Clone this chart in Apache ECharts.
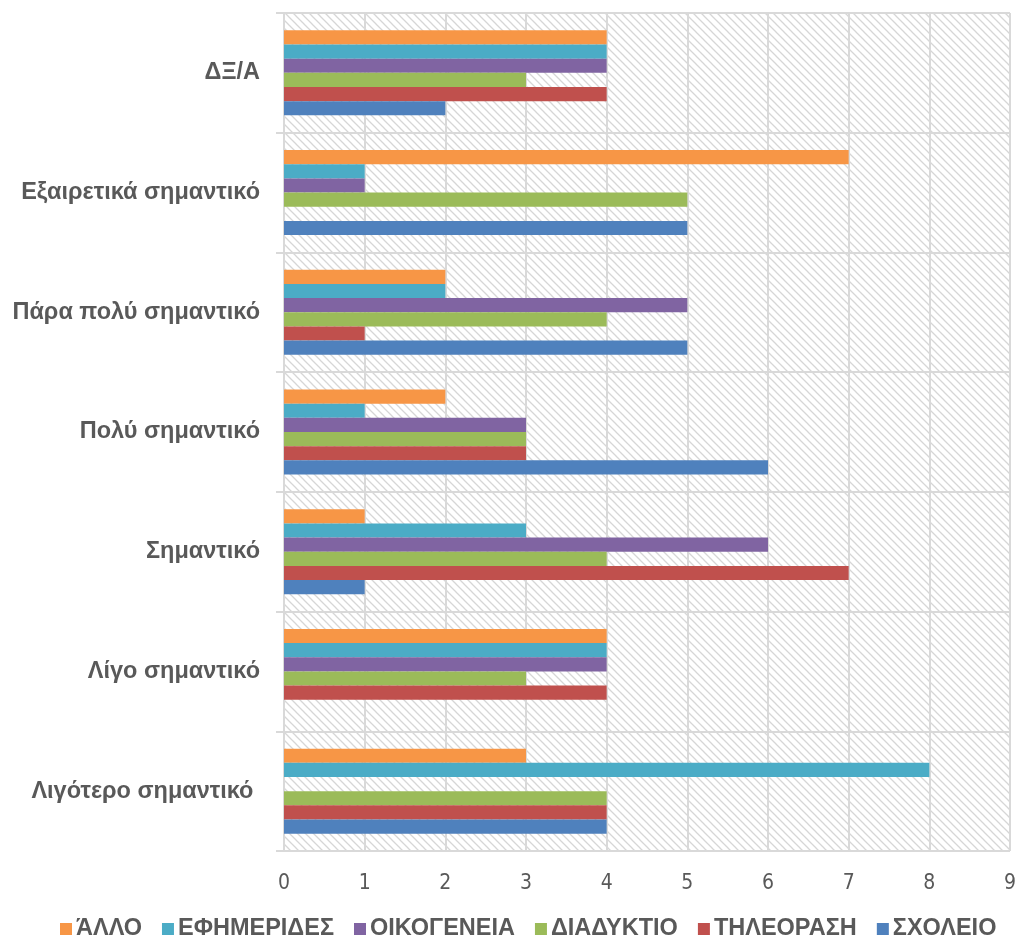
<!DOCTYPE html>
<html>
<head>
<meta charset="utf-8">
<script src="https://cdn.jsdelivr.net/npm/echarts@6/dist/echarts.min.js"></script>
<style>
  html, body { margin: 0; padding: 0; background: #ffffff; }
  #chart { width: 1019px; height: 947px; }
</style>
</head>
<body>
<div id="chart"></div>
<script>
// Importance categories, listed from the bottom of the axis upwards
const categories = [
  'Λιγότερο σημαντικό ',
  'Λίγο σημαντικό',
  'Σημαντικό',
  'Πολύ σημαντικό',
  'Πάρα πολύ σημαντικό',
  'Εξαιρετικά σημαντικό',
  'ΔΞ/Α'
];

// One array per information source, values follow the category order above
const sxoleio     = [4, 0, 1, 6, 5, 5, 2];
const tileorasi   = [4, 4, 7, 3, 1, 0, 4];
const diadyktio   = [4, 3, 4, 3, 4, 5, 3];
const oikogeneia  = [0, 4, 6, 3, 5, 1, 4];
const efimerides  = [8, 4, 3, 1, 2, 1, 4];
const allo        = [3, 4, 1, 2, 2, 7, 4];

const xTicks = [0, 1, 2, 3, 4, 5, 6, 7, 8, 9];
const legendOrder = ['ΆΛΛΟ', 'ΕΦΗΜΕΡΙΔΕΣ', 'ΟΙΚΟΓΕΝΕΙΑ', 'ΔΙΑΔΥΚΤΙΟ', 'ΤΗΛΕΟΡΑΣΗ', 'ΣΧΟΛΕΙΟ'];

// Light diagonal hatch used as the plot-area fill
function makeHatch() {
  const s = 8;
  const c = document.createElement('canvas');
  c.width = s; c.height = s;
  const g = c.getContext('2d');
  g.fillStyle = '#ffffff';
  g.fillRect(0, 0, s, s);
  g.strokeStyle = '#d6d6d6';
  g.lineWidth = 1.3;
  g.beginPath();
  g.moveTo(-1, -1); g.lineTo(s + 1, s + 1);
  g.moveTo(-1, s - 1); g.lineTo(1, s + 1);
  g.moveTo(s - 1, -1); g.lineTo(s + 1, 1);
  g.stroke();
  return c;
}

// Series listed top-to-bottom within each category band
const seriesDefs = [
  { name: 'ΆΛΛΟ',        data: allo,       color: '#F79646' },
  { name: 'ΕΦΗΜΕΡΙΔΕΣ',  data: efimerides, color: '#4BACC6' },
  { name: 'ΟΙΚΟΓΕΝΕΙΑ',  data: oikogeneia, color: '#8064A2' },
  { name: 'ΔΙΑΔΥΚΤΙΟ',   data: diadyktio,  color: '#9BBB59' },
  { name: 'ΤΗΛΕΟΡΑΣΗ',   data: tileorasi,  color: '#C0504D' },
  { name: 'ΣΧΟΛΕΙΟ',     data: sxoleio,    color: '#4F81BD' }
];

const chart = echarts.init(document.getElementById('chart'), null, { renderer: 'canvas' });

chart.setOption({
  animation: false,
  backgroundColor: '#ffffff',
  grid: {
    left: 284, right: 8, top: 13, bottom: 96,
    show: true,
    borderWidth: 0,
    backgroundColor: { image: makeHatch(), repeat: 'repeat' }
  },
  legend: {
    data: legendOrder,
    top: 912,
    left: 55,
    itemWidth: 12,
    itemHeight: 12,
    itemGap: 20,
    icon: 'rect',
    textStyle: {
      color: '#595959',
      fontSize: 23.5,
      fontWeight: 'bold',
      padding: [0, 0, 0, -1],
      fontFamily: '"Liberation Sans", Arial, sans-serif'
    }
  },
  xAxis: {
    type: 'value',
    min: 0,
    max: 9,
    interval: 1,
    axisLine: { show: false },
    axisTick: { show: false },
    axisLabel: {
      color: '#595959',
      fontSize: 21,
      margin: 22,
      fontFamily: '"Liberation Sans Narrow", "DejaVu Sans Condensed", sans-serif',
      formatter: v => xTicks.includes(v) ? String(v) : ''
    },
    splitLine: { show: true, lineStyle: { color: '#d9d9d9', width: 2 } }
  },
  yAxis: {
    type: 'category',
    data: categories,
    axisLine: { show: true, lineStyle: { color: '#d9d9d9', width: 2 } },
    axisTick: { show: true, length: 8, lineStyle: { color: '#d9d9d9', width: 2 } },
    axisLabel: {
      color: '#595959',
      fontSize: 23.5,
      fontWeight: 'bold',
      margin: 24,
      fontFamily: '"Liberation Sans", Arial, sans-serif'
    },
    splitLine: { show: true, lineStyle: { color: '#d9d9d9', width: 2 } }
  },
  series: seriesDefs.map(s => ({
    name: s.name,
    type: 'bar',
    data: s.data,
    barGap: '0%',
    barCategoryGap: '29%',
    itemStyle: { color: s.color }
  }))
});
</script>
</body>
</html>
